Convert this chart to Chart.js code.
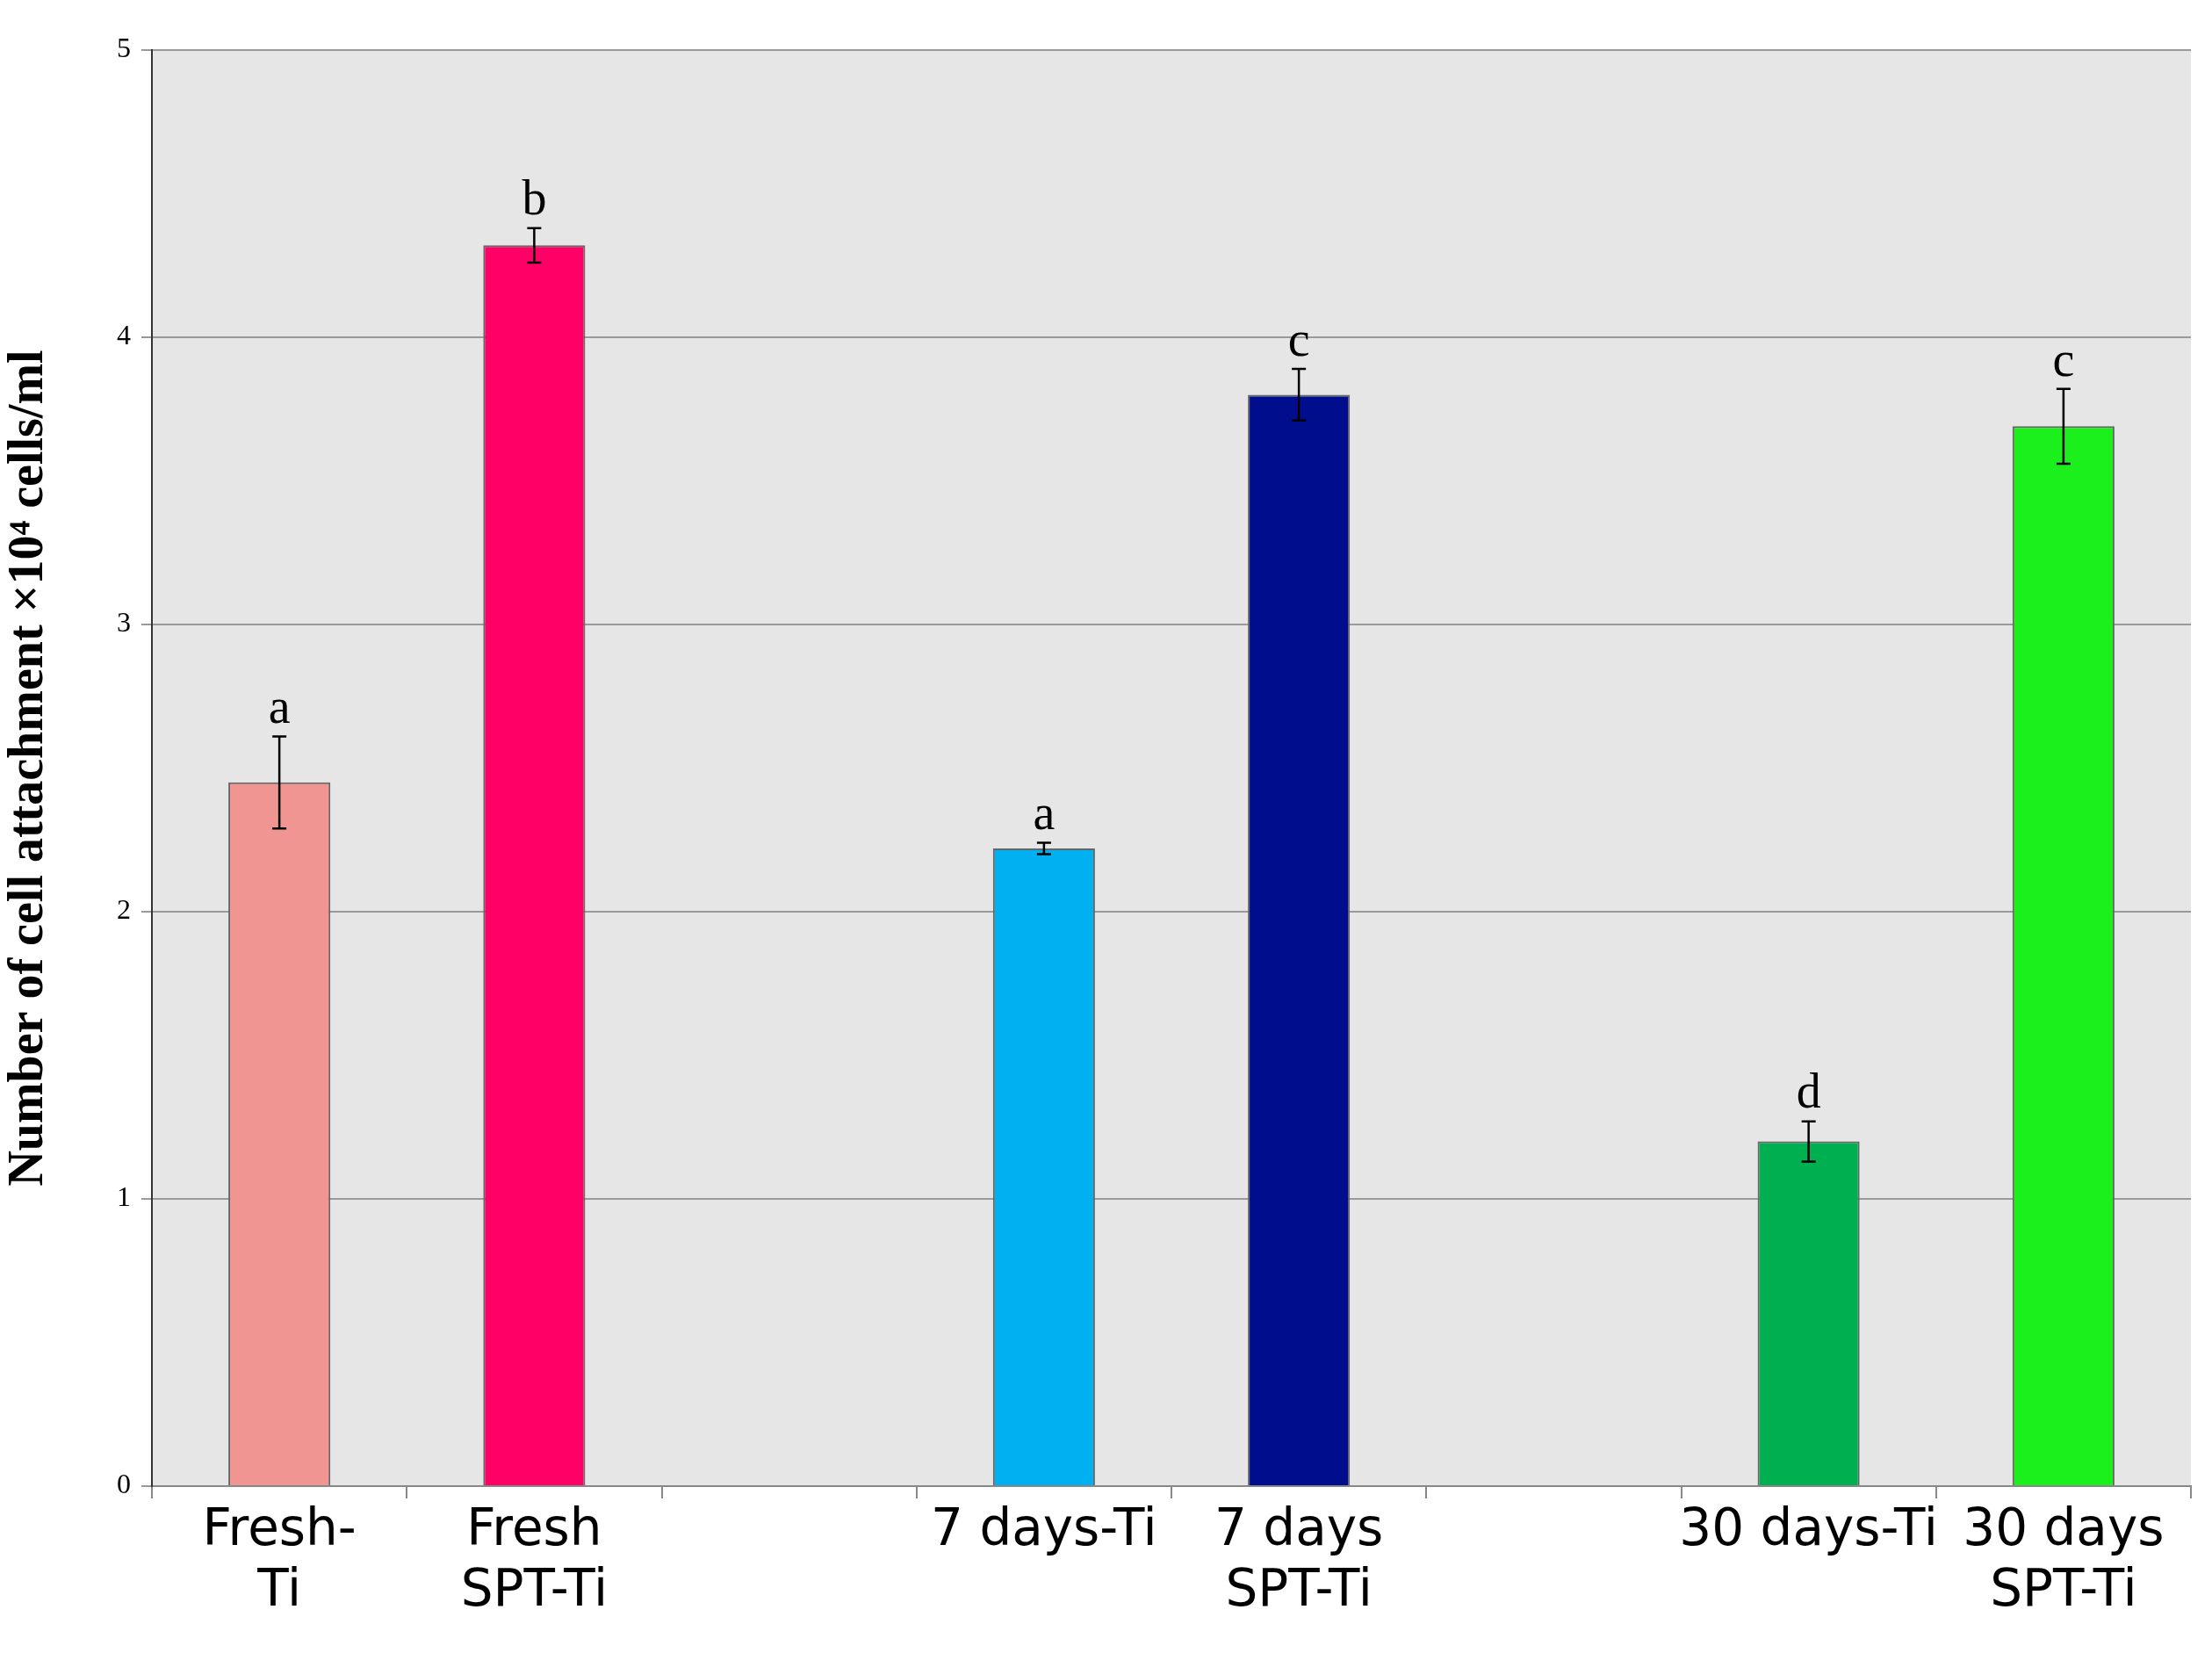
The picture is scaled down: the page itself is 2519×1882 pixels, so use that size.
<!DOCTYPE html>
<html><head><meta charset="utf-8">
<script src="https://cdn.jsdelivr.net/npm/chart.js@4/dist/chart.umd.min.js"></script>
<style>body{margin:0;background:#fff}#wrap{width:2519px;height:1882px}</style>
</head><body><div id="wrap"><canvas id="myChart"></canvas></div>
<script>
const categories = [['Fresh-', 'Ti'], ['Fresh', 'SPT-Ti'], '', '7 days-Ti', ['7 days', 'SPT-Ti'], '', '30 days-Ti', ['30 days', 'SPT-Ti']]
const values = [2.45, 4.32, null, 2.22, 3.8, null, 1.2, 3.69]
const errors = [0.16, 0.06, null, 0.02, 0.09, null, 0.07, 0.13]
const letters = ['a', 'b', '', 'a', 'c', '', 'd', 'c']
const colors = ['#f19592', '#ff0066', '#fff', '#00b0f0', '#000d8c', '#fff', '#00b050', '#1cf01c']

// grey plot background, error bars and letters
const extras = {
    id: 'extras',
    beforeDraw(chart) {
        const a = chart.chartArea, c = chart.ctx
        c.save()
        c.fillStyle = '#e6e6e6'
        c.fillRect(a.left, a.top, a.right - a.left, a.bottom - a.top)
        c.restore()
    },
    afterDatasetsDraw(chart) {
        const c = chart.ctx, x = chart.scales.x, y = chart.scales.y
        c.save()
        c.strokeStyle = '#000'
        c.lineWidth = 2.5
        c.fillStyle = '#000'
        c.font = '56px "Liberation Serif"'
        c.textAlign = 'center'
        c.textBaseline = 'bottom'
        values.forEach((v, i) => {
            if (v === null) return
            const px = x.getPixelForValue(i)
            const hi = y.getPixelForValue(v + errors[i]), lo = y.getPixelForValue(v - errors[i])
            c.beginPath()
            c.moveTo(px, hi); c.lineTo(px, lo)
            c.moveTo(px - 8, hi); c.lineTo(px + 8, hi)
            c.moveTo(px - 8, lo); c.lineTo(px + 8, lo)
            c.stroke()
            c.fillText(letters[i], px, hi - 2)
        })
        c.restore()
    }
}

new Chart(document.getElementById('myChart'), {
    type: 'bar',
    data: {
        labels: categories,
        datasets: [{
            data: values,
            backgroundColor: colors,
            borderColor: '#666',
            borderWidth: 2,
            categoryPercentage: 1,
            barPercentage: 0.4
        }]
    },
    options: {
        responsive: true,
        maintainAspectRatio: false,
        animation: false,
        layout: { padding: { top: 57, right: 24 } },
        plugins: { legend: { display: false }, tooltip: { enabled: false } },
        scales: {
            x: {
                grid: { offset: true, drawOnChartArea: false, color: '#888', tickLength: 14, lineWidth: 2 },
                border: { color: '#888', width: 2 },
                ticks: { font: { size: 58, family: 'Verdana, "DejaVu Sans"' }, color: '#000', maxRotation: 0, autoSkip: false },
                afterFit(s) { s.height = 190 }
            },
            y: {
                min: 0, max: 5,
                grid: { color: '#9a9a9a', lineWidth: 2, tickLength: 12 },
                border: { color: '#333', width: 2 },
                ticks: { stepSize: 1, font: { size: 32, family: '"Liberation Serif"' }, color: '#000', padding: 12 },
                title: {
                    display: true,
                    text: 'Number of cell attachment ×10⁴ cells/ml',
                    font: { size: 56, weight: 'bold', family: '"Liberation Serif"' },
                    color: '#000',
                    padding: { top: 0, bottom: 20 }
                },
                afterFit(s) { s.width = 173 }
            }
        }
    },
    plugins: [extras]
})
</script>
</body></html>
